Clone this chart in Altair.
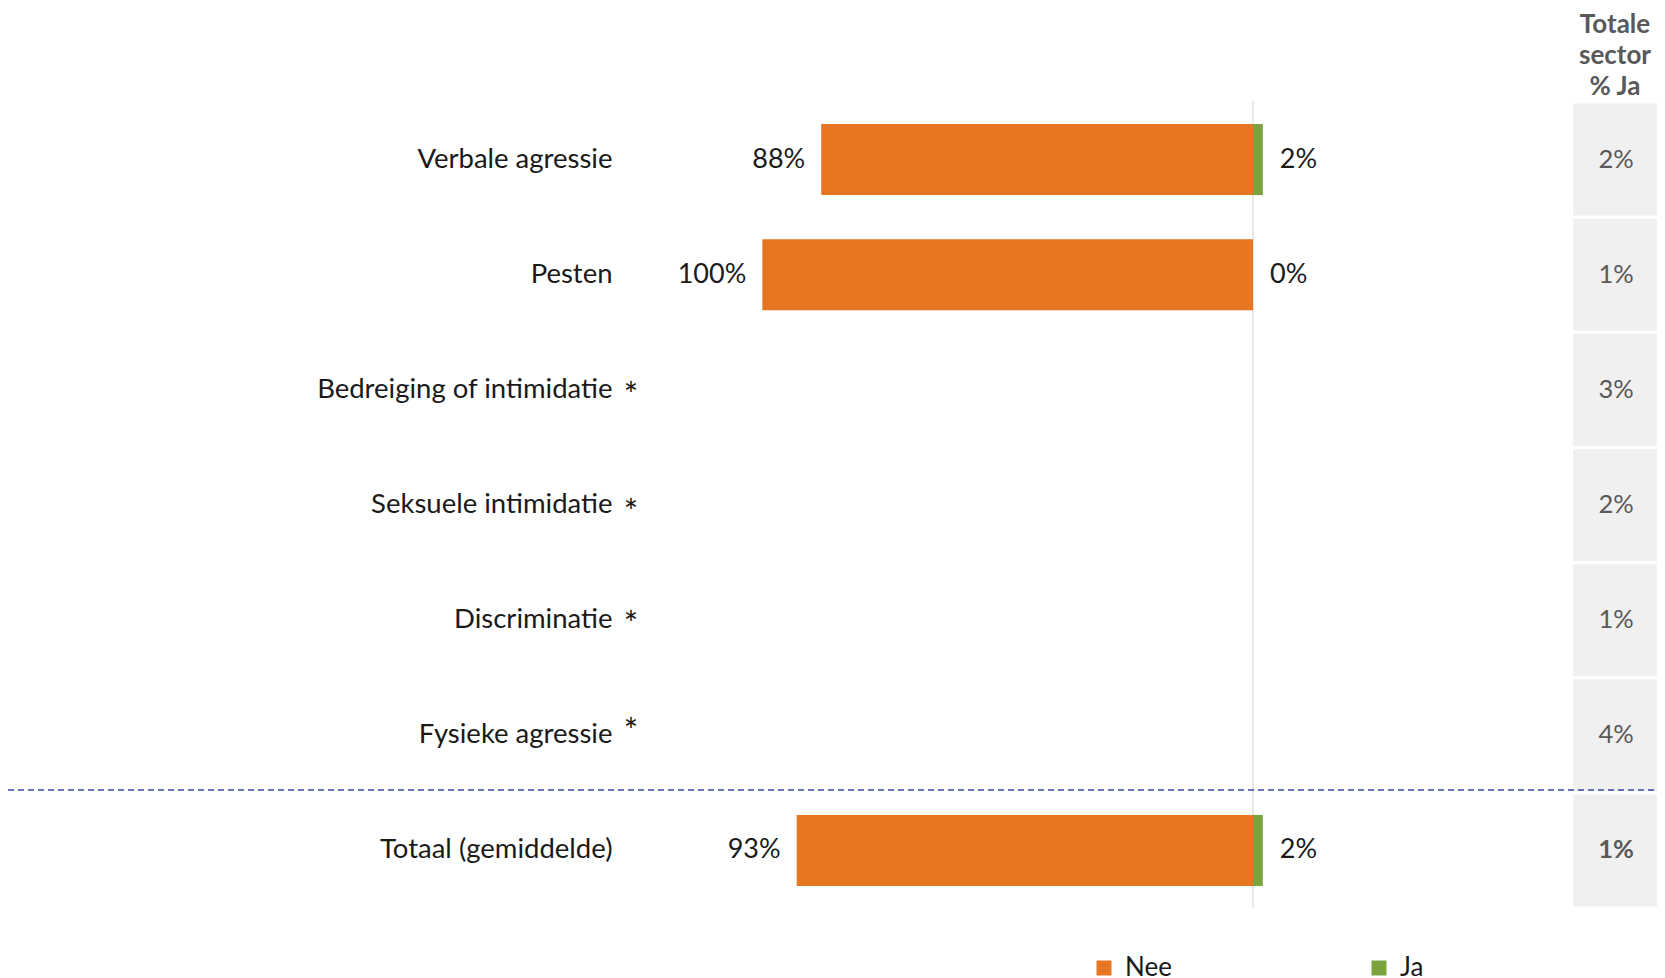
import altair as alt
import pandas as pd

categories = ["Verbale agressie", "Pesten", "Bedreiging of intimidatie",
              "Seksuele intimidatie", "Discriminatie", "Fysieke agressie",
              "Totaal (gemiddelde)"]
nee_values = [88, 100, None, None, None, None, 93]
ja_values = [2, 0, None, None, None, None, 2]
sector_ja = [2, 1, 3, 2, 1, 4, 1]
asterisk_rows = ["Bedreiging of intimidatie", "Seksuele intimidatie",
                 "Discriminatie", "Fysieke agressie"]
asterisk_dy = [7, 9, 6, -2]

ORANGE = "#E67622"
GREEN = "#7AA340"
FONT = "Lato"

# geometry of the plot area (styles)
W, H = 1035, 806
x_dom = [-128.6, 82.33]

bars_rows = []
for c, n, j in zip(categories, nee_values, ja_values):
    if n is None:
        continue
    bars_rows.append({"cat": c, "Antwoord": "Nee", "start": -n, "end": 0, "v": n})
    bars_rows.append({"cat": c, "Antwoord": "Ja", "start": 0, "end": j, "v": j})
bars_df = pd.DataFrame(bars_rows)

sector_df = pd.DataFrame({"cat": categories, "val": [f"{v}%" for v in sector_ja],
                          "bold": [c == "Totaal (gemiddelde)" for c in categories]})

xscale = alt.Scale(domain=x_dom, nice=False, zero=False)
yscale = alt.Scale(domain=categories, paddingInner=0.383, paddingOuter=0.1915)
yaxis = alt.Axis(title=None, domain=False, ticks=False, labelPadding=10, labelLimit=0,
                 labelFontSize=27.5, labelColor="#1a1a1a", labelFont=FONT, grid=False)

def Y():
    return alt.Y("cat:N", sort=categories, scale=yscale, axis=yaxis)

boxes = alt.Chart(sector_df).mark_bar(height=112, color="#F0F0F0").encode(
    x=alt.value(951), x2=alt.value(W), y=Y()
)

sector_txt = alt.Chart(sector_df).transform_filter("!datum.bold").mark_text(
    fontSize=25.5, color="#595959", font=FONT, align="center", baseline="middle"
).encode(x=alt.value(994), y=Y(), text="val:N")

sector_txt_b = alt.Chart(sector_df).transform_filter("datum.bold").mark_text(
    fontSize=25.5, color="#595959", font=FONT, fontWeight="bold", align="center", baseline="middle"
).encode(x=alt.value(994), y=Y(), text="val:N")

header = alt.Chart(pd.DataFrame({"t": ["Totale\nsector\n% Ja"]})).mark_text(
    fontSize=26, color="#595959", font=FONT, fontWeight="bold", align="center",
    baseline="middle", lineBreak="\n", lineHeight=31
).encode(x=alt.value(993), y=alt.value(-77), text="t:N")

zero_rule = alt.Chart(pd.DataFrame({"z": [0]})).mark_rule(color="#CFCFCF", strokeWidth=1).encode(
    x=alt.X("z:Q", scale=xscale, axis=None), y=alt.value(-1), y2=alt.value(H)
)

bars = alt.Chart(bars_df).mark_bar().encode(
    x=alt.X("start:Q", scale=xscale, axis=None),
    x2="end:Q",
    y=Y(),
    color=alt.Color("Antwoord:N",
                    scale=alt.Scale(domain=["Nee", "Ja"], range=[ORANGE, GREEN]),
                    legend=alt.Legend(title=None, orient="none", legendX=469, legendY=853,
                                      direction="horizontal", symbolType="square",
                                      symbolSize=225, symbolStrokeWidth=0,
                                      labelFontSize=26, labelFont=FONT, labelColor="#1a1a1a",
                                      labelOffset=8, columnPadding=194, padding=0)),
)

nee_lbl = alt.Chart(bars_df).transform_filter("datum.Antwoord == 'Nee'").transform_calculate(
    lbl="datum.v + '%'"
).mark_text(
    align="right", baseline="middle", dx=-16, fontSize=27, font=FONT, color="#1a1a1a"
).encode(x=alt.X("start:Q", scale=xscale, axis=None), y=Y(), text="lbl:N")

ja_lbl = alt.Chart(bars_df).transform_filter("datum.Antwoord == 'Ja'").transform_calculate(
    lbl="datum.v + '%'"
).mark_text(
    align="left", baseline="middle", dx=17, fontSize=27, font=FONT, color="#1a1a1a"
).encode(x=alt.X("end:Q", scale=xscale, axis=None), y=Y(), text="lbl:N")

ast_layers = []
for cat, dy in zip(asterisk_rows, asterisk_dy):
    ast_layers.append(
        alt.Chart(pd.DataFrame({"cat": [cat], "t": ["*"]})).mark_text(
            fontSize=34, font=FONT, color="#1a1a1a", align="center",
            baseline="middle", dy=dy
        ).encode(x=alt.value(9), y=Y(), text="t:N")
    )

dash = alt.Chart(pd.DataFrame({"d": [0]})).mark_rule(
    color="#3A4A9F", strokeDash=[6, 4], strokeWidth=1.5
).encode(x=alt.value(-614), x2=alt.value(W), y=alt.value(688))

chart = alt.layer(
    boxes, zero_rule, bars, nee_lbl, ja_lbl, sector_txt, sector_txt_b, header,
    *ast_layers, dash
).properties(
    width=W, height=H,
    autosize=alt.AutoSizeParams(type="none"),
    padding={"left": 614, "top": 94, "right": 0, "bottom": 70},
).configure(
    font=FONT,
    view=alt.ViewConfig(strokeWidth=0, stroke="transparent"),
    legend=alt.LegendConfig(padding=0),
)

chart.save("out.html", embed_options={"renderer": "svg", "actions": False})
